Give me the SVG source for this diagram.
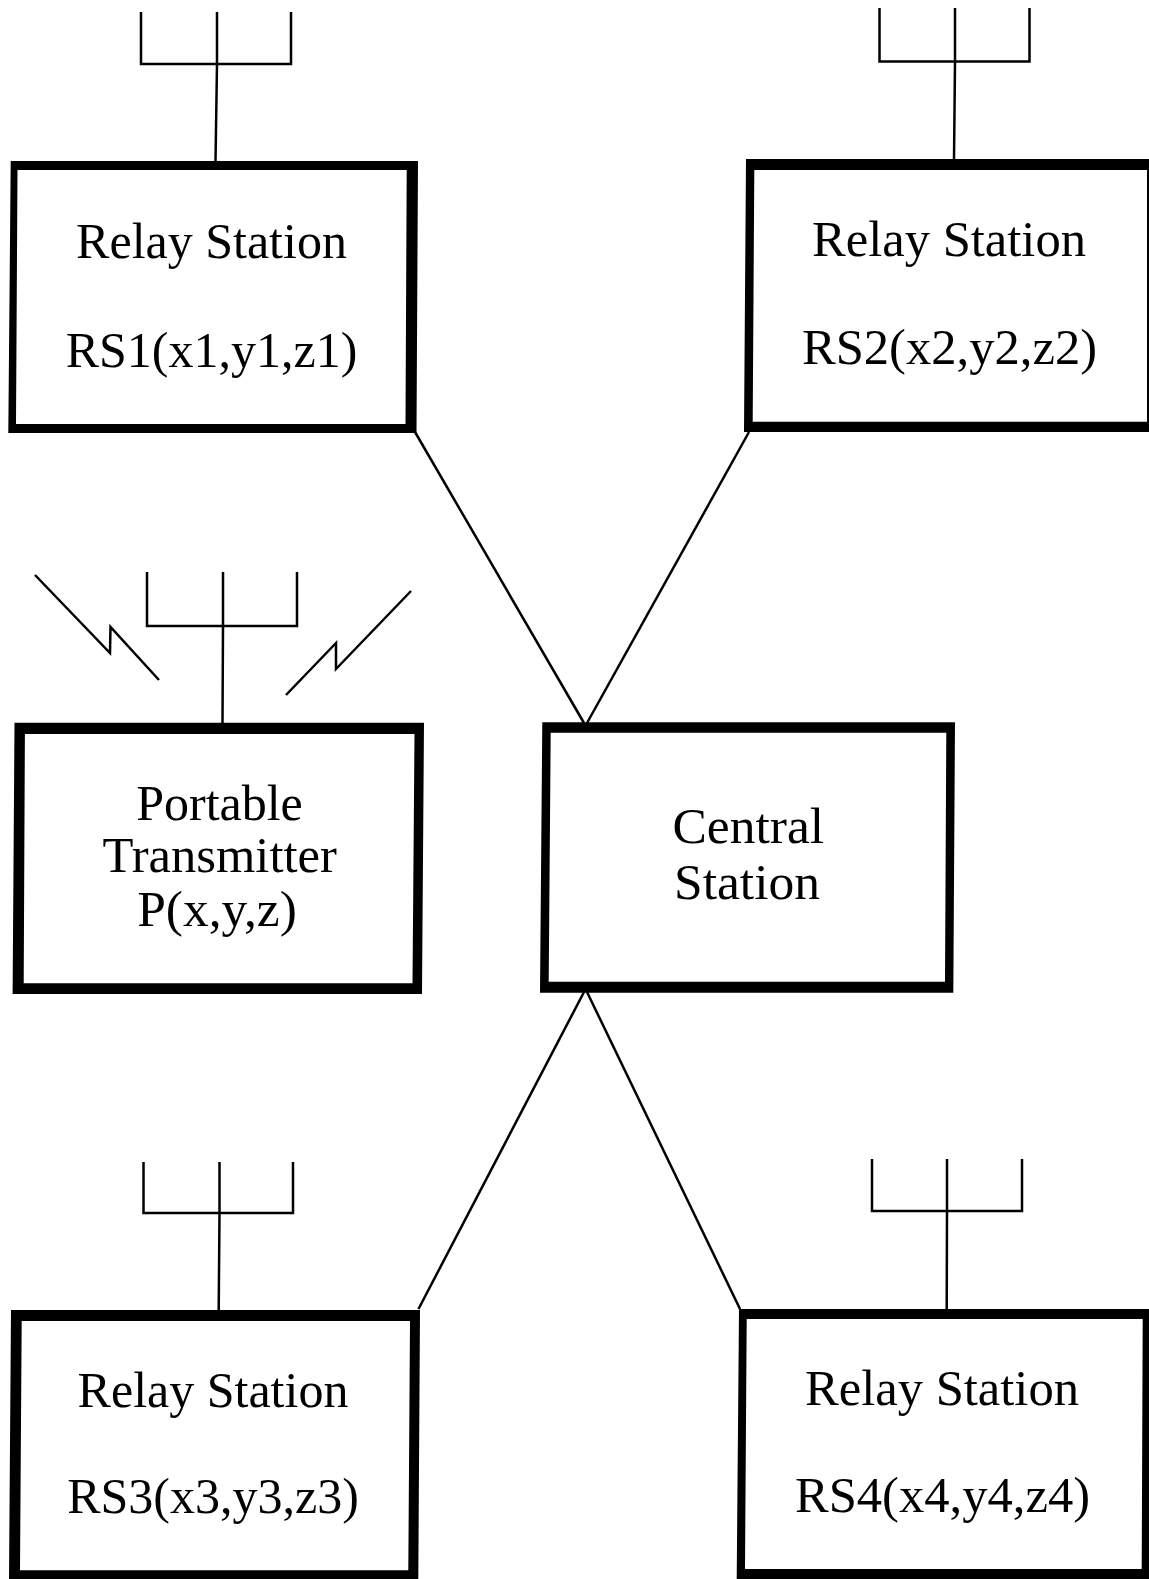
<svg xmlns="http://www.w3.org/2000/svg" width="1149" height="1579" viewBox="0 0 1149 1579">
<style>
.box{fill:#000;fill-rule:evenodd;stroke:none}
.ln{fill:none;stroke:#000;stroke-width:2.5;stroke-linejoin:miter}
text{font-family:"Liberation Serif","Times New Roman",serif;font-size:50px;fill:#000;text-anchor:middle}
.w{font-size:50.6px}
.c{font-size:51.5px}
</style>
<rect width="1149" height="1579" fill="#fff"/>
<g id="connectors">
<path class="ln" d="M415 432L584 723"/>
<path class="ln" d="M749 432L587 723"/>
<path class="ln" d="M418.5 1309L584 992"/>
<path class="ln" d="M740 1309L587 992"/>
<path class="ln" d="M141 12V64H291V12M217 12V64L215.5 162"/>
<path class="ln" d="M879.5 8V61.5H1029.5V8M955 8V61.5L954 160"/>
<path class="ln" d="M147 572V626H297V572M223 572V626L222.5 724"/>
<path class="ln" d="M143.5 1162V1213H293V1162M219.5 1162V1213L218.7 1311"/>
<path class="ln" d="M872 1159V1211H1022V1159M947 1159V1211L946.7 1310"/>
<path class="ln" d="M35 575L110 653L110.500 627L159 680"/>
<path class="ln" d="M286 695L336 643V669L411 591"/>
</g>
<g id="rs1"><path class="box" d="M10.7 161H418L416.5 433H8.3ZM17.5 170L16 424H405.5L406.7 170Z"/><text x="211.500" y="258">Relay Station</text><text x="211.500" y="367">RS1(x1,y1,z1)</text></g>
<g id="rs2"><path class="box" d="M746 159H1160V432H744ZM754.3 170L752.7 421.7H1147V170Z"/><text class="w" x="949" y="256">Relay Station</text><text class="w" x="949.500" y="364">RS2(x2,y2,z2)</text></g>
<g id="portable"><path class="box" d="M14.5 722.7H424L422 994H12.6ZM24.9 734L23.7 983.3H412.5L414.5 734Z"/><text x="219.500" y="819.500">Portable</text><text class="w" x="219.700" y="872">Transmitter</text><text class="c" x="217" y="926">P(x,y,z)</text></g>
<g id="central"><path class="box" d="M542.3 722.3H955L953.3 992.7H540ZM550.7 732.7L548.7 981.7H945L946.3 732.7Z"/><text class="c" x="748.300" y="843">Central</text><text class="c" x="747" y="899">Station</text></g>
<g id="rs3"><path class="box" d="M11 1310H420L418.3 1579H9ZM21.7 1321L20 1570.3H408.3L410 1321Z"/><text x="213" y="1406.500">Relay Station</text><text x="213" y="1512.500">RS3(x3,y3,z3)</text></g>
<g id="rs4"><path class="box" d="M739 1309H1160V1579H736.7ZM746.7 1319L745 1569H1141.7L1142.7 1319Z"/><text class="w" x="942" y="1405">Relay Station</text><text class="w" x="942.500" y="1512">RS4(x4,y4,z4)</text></g>
</svg>
